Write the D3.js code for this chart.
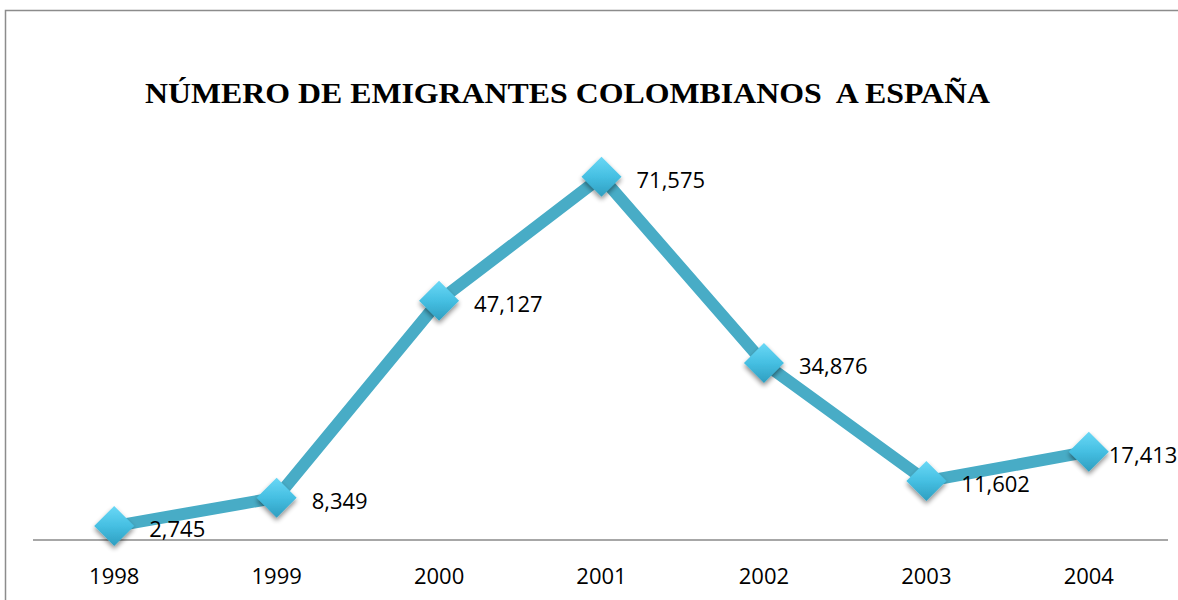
<!DOCTYPE html>
<html><head><meta charset="utf-8">
<script src="https://cdn.jsdelivr.net/npm/d3@7"></script>
<style>html,body{margin:0;padding:0;background:#fff;overflow:hidden}</style>
</head><body>
<script>
const years = ["1998","1999","2000","2001","2002","2003","2004"];
const emigrants = [2745, 8349, 47127, 71575, 34876, 11602, 17413];
const labels = ["2,745","8,349","47,127","71,575","34,876","11,602","17,413"];
const title = "NÚMERO DE EMIGRANTES COLOMBIANOS  A ESPAÑA";

const W = 1178, H = 600;
const svg = d3.select("body").append("svg").attr("width", W).attr("height", H);

const defs = svg.append("defs");
const g1 = defs.append("linearGradient").attr("id","dg").attr("x1","0").attr("y1","0").attr("x2","0").attr("y2","1");
g1.append("stop").attr("offset","0").attr("stop-color","#6ad8f6");
g1.append("stop").attr("offset","0.5").attr("stop-color","#45bfe2");
g1.append("stop").attr("offset","1").attr("stop-color","#2f9ec0");
const f = defs.append("filter").attr("id","sh").attr("x","-50%").attr("y","-50%").attr("width","200%").attr("height","200%");
f.append("feGaussianBlur").attr("in","SourceAlpha").attr("stdDeviation","2.5");
f.append("feOffset").attr("dx","0").attr("dy","3").attr("result","b");
f.append("feComponentTransfer").append("feFuncA").attr("type","linear").attr("slope","0.45");
const m = f.append("feMerge"); m.append("feMergeNode"); m.append("feMergeNode").attr("in","SourceGraphic");

// frame
svg.append("path").attr("d","M5.5,600 L5.5,10.5 L1178,10.5").attr("fill","none").attr("stroke","#8c8c8c").attr("stroke-width",1.5);

const x = d3.scaleBand().domain(years).range([33, 1170]);
const y = d3.scaleLinear().domain([0, 80000]).range([540, 134]);

svg.append("text").attr("x", 145).attr("y", 103).attr("xml:space","preserve").style("white-space","pre")
  .style("font-family","'Liberation Serif', 'Times New Roman', Times, serif").attr("font-weight","bold").attr("font-size",30)
  .attr("textLength", 845).attr("lengthAdjust","spacingAndGlyphs")
  .attr("fill","#000").text(title);

const lblFont = "'Open Sans', sans-serif";
// x axis
const ax = svg.append("g").attr("transform","translate(0,540)")
  .call(d3.axisBottom(x).tickSize(0).tickPadding(0));
ax.select(".domain").attr("stroke","#8a8a8a").attr("stroke-width",1.5).attr("d","M33,0H1168");
ax.selectAll("text").style("font-family",lblFont).attr("font-size",22)
  .attr("fill","#000").attr("dy","0").attr("y",35).attr("dominant-baseline","central");

const cx = d => x(d) + x.bandwidth()/2;
const line = d3.line().x((d,i)=>cx(years[i])).y(d=>y(d));
svg.append("path").datum(emigrants).attr("d", line).attr("fill","none")
  .attr("stroke","#48acc6").attr("stroke-width",12).attr("stroke-linejoin","miter");

const s = 20;
svg.selectAll(".mk").data(emigrants).enter().append("path").attr("class","mk")
  .attr("transform",(d,i)=>`translate(${cx(years[i])},${y(d)})`)
  .attr("d",`M0,${-s}L${s},0L0,${s}L${-s},0Z`)
  .attr("fill","url(#dg)").attr("filter","url(#sh)");

svg.selectAll(".lb").data(emigrants).enter().append("text").attr("class","lb")
  .attr("x",(d,i)=>cx(years[i]) + (i === years.length-1 ? 20 : 35)).attr("y",d=>y(d)+2)
  .attr("dominant-baseline","central")
  .style("font-family",lblFont).attr("font-size",22).attr("fill","#000")
  .text((d,i)=>labels[i]);
</script>
</body></html>
